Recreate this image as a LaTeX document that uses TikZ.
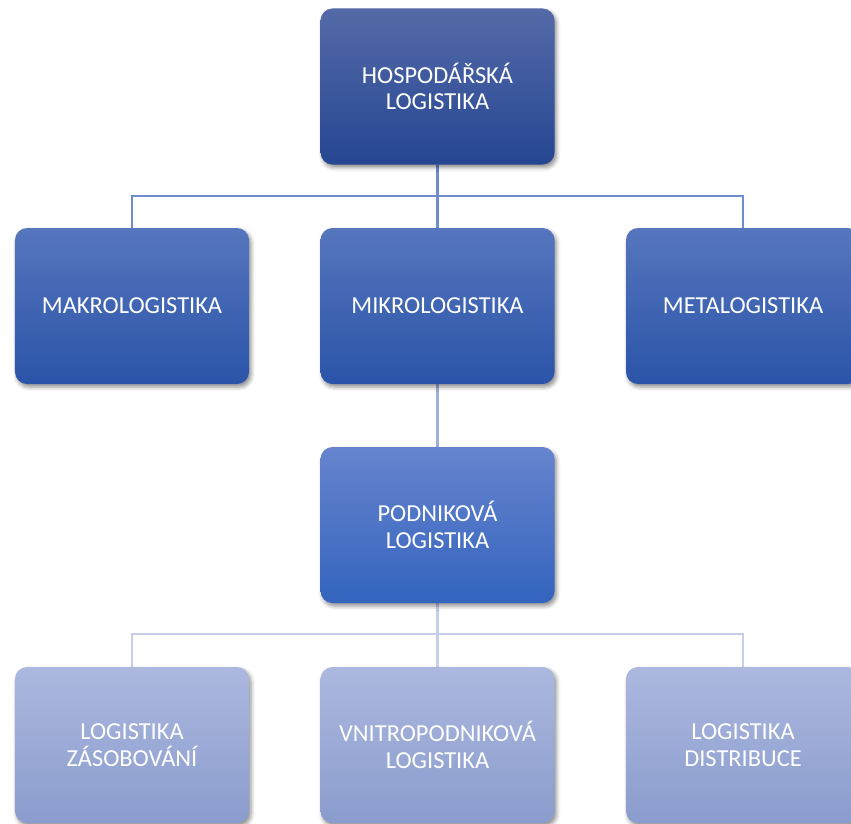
\documentclass[tikz,border=0pt]{standalone}
\usepackage{fontspec}
\setmainfont{Carlito}
\usetikzlibrary{shadows.blur,backgrounds}
\definecolor{lvOneTop}{RGB}{84,106,168}
\definecolor{lvOneBot}{RGB}{38,70,146}
\definecolor{lvTwoTop}{RGB}{86,118,190}
\definecolor{lvTwoBot}{RGB}{42,84,168}
\definecolor{lvThreeTop}{RGB}{102,132,206}
\definecolor{lvThreeBot}{RGB}{52,100,190}
\definecolor{lvFourTop}{RGB}{172,184,223}
\definecolor{lvFourBot}{RGB}{138,156,205}
\definecolor{linkA}{RGB}{110,140,206}
\definecolor{linkB}{RGB}{160,174,216}
\definecolor{linkC}{RGB}{198,206,232}
\tikzset{
  orgbox/.style={rounded corners=12bp, minimum width=234bp, minimum height=156bp,
    text width=225bp, align=center, inner sep=0pt, text=white,
    font=\fontsize{24.5}{26.5}\selectfont,
    blur shadow={shadow xshift=2bp, shadow yshift=-3bp, shadow blur radius=4bp,
      shadow opacity=45}},
  lvone/.style={orgbox, top color=lvOneTop, bottom color=lvOneBot},
  lvtwo/.style={orgbox, top color=lvTwoTop, bottom color=lvTwoBot},
  lvthree/.style={orgbox, top color=lvThreeTop, bottom color=lvThreeBot},
  lvfour/.style={orgbox, top color=lvFourTop, bottom color=lvFourBot},
  link/.style={line width=2.4bp}
}
\begin{document}
\begin{tikzpicture}[x=1bp,y=-1bp]
\useasboundingbox (0,0) rectangle (851,824);
\clip (0,0) rectangle (851,824);
% bus lines
\coordinate (busA) at (437.5,196);
\coordinate (busB) at (437.5,634);
% boxes
\node[lvone] (hosp) at (437.5,86.5) {HOSPODÁŘSKÁ\\LOGISTIKA};
\node[lvtwo] (makro) at (132,306) {MAKROLOGISTIKA};
\node[lvtwo] (mikro) at (437.5,306) {MIKROLOGISTIKA};
\node[lvtwo] (meta) at (743,306) {METALOGISTIKA};
\node[lvthree] (podnik) at (437.5,525) {PODNIKOVÁ\\LOGISTIKA};
\node[lvfour] (zasob) at (132,745) {LOGISTIKA\\ZÁSOBOVÁNÍ};
\node[lvfour] (vnitro) at (437.5,745) {VNITROPODNIKOVÁ\\LOGISTIKA};
\node[lvfour] (distr) at (743,745) {LOGISTIKA\\DISTRIBUCE};
% connectors, kept behind the boxes
\begin{scope}[on background layer]
\draw[link, linkA] (hosp.south) -- (mikro.north);
\draw[link, linkA] (makro.north) |- (busA) -| (meta.north);
\draw[link, linkB] (mikro.south) -- (podnik.north);
\draw[link, linkC] (podnik.south) -- (vnitro.north);
\draw[link, linkC] (zasob.north) |- (busB) -| (distr.north);
\end{scope}
\end{tikzpicture}
\end{document}
